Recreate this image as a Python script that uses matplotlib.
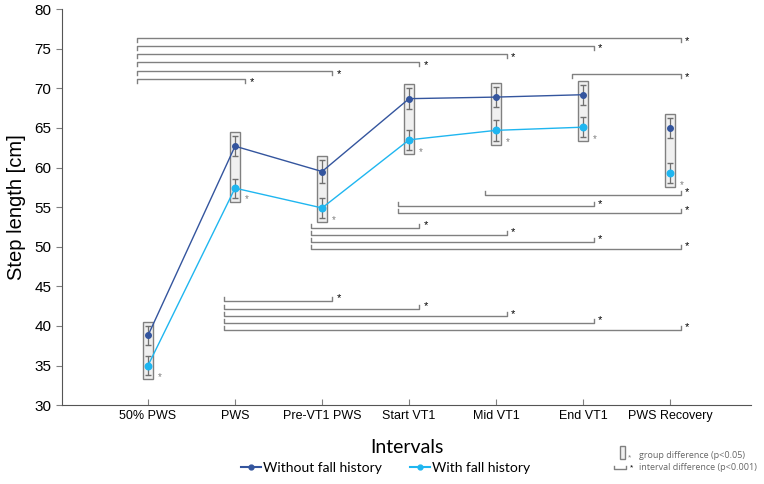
import matplotlib.pyplot as plt
from matplotlib.patches import Rectangle
from matplotlib.lines import Line2D

plt.rcParams['font.family'] = ['Liberation Sans', 'DejaVu Sans']

# data
intervals = ["50% PWS", "PWS", "Pre-VT1 PWS", "Start VT1", "Mid VT1", "End VT1", "PWS Recovery"]
no_falls = [38.8, 62.7, 59.5, 68.7, 68.9, 69.2, 65.0]
no_falls_err = [1.25, 1.25, 1.45, 1.3, 1.3, 1.25, 1.3]
falls = [35.0, 57.4, 54.9, 63.5, 64.7, 65.1, 59.3]
falls_err = [1.2, 1.2, 1.3, 1.3, 1.3, 1.25, 1.3]

# interval comparisons: (height, from interval, to interval, above/below)
brackets = [
    (76.3, 0, 6, 1), (75.4, 0, 5, 1), (74.3, 0, 4, 1), (73.3, 0, 3, 1),
    (72.2, 0, 2, 1), (71.2, 0, 1, 1), (71.8, 5, 6, 1),
    (56.5, 4, 6, -1), (55.1, 3, 5, -1), (54.25, 3, 6, -1),
    (52.4, 2, 3, -1), (51.5, 2, 4, -1), (50.6, 2, 5, -1), (49.7, 2, 6, -1),
    (43.2, 1, 2, -1), (42.2, 1, 3, -1), (41.2, 1, 4, -1), (40.4, 1, 5, -1), (39.5, 1, 6, -1),
]

dark = '#34559e'
light = '#1fb6f0'
grey = '#808080'
soft = ['Lato', 'DejaVu Sans']

fig = plt.figure(figsize=(7.64, 4.84), dpi=100)
ax = fig.add_axes([0.081, 0.163, 0.902, 0.818])

x = list(range(len(intervals)))

# grey boxes marking group differences
for i in x:
    top = no_falls[i] + no_falls_err[i] + 0.5
    bot = falls[i] - falls_err[i] - 0.5
    ax.add_patch(Rectangle((i - 0.06, bot), 0.12, top - bot, facecolor='#f0f0f0',
                           edgecolor=grey, lw=1, zorder=1))
    ax.text(i + 0.13, bot + 0.3, '*', color=grey, fontsize=7, ha='center', va='center')

ax.errorbar(x, no_falls, yerr=no_falls_err, fmt='none', ecolor='#707070', elinewidth=0.9,
            capsize=2, zorder=2)
ax.errorbar(x, falls, yerr=falls_err, fmt='none', ecolor='#707070', elinewidth=0.9,
            capsize=2, zorder=2)
ax.plot(x[:-1], no_falls[:-1], color=dark, lw=1, zorder=3)
ax.plot(x[:-1], falls[:-1], color=light, lw=1, zorder=3)
ax.plot(x, no_falls, 'o', color=dark, ms=4, zorder=4)
ax.plot(x, falls, 'o', color=light, ms=4.7, zorder=4)

for y, a, b, d in brackets:
    x0 = a - 0.13
    x1 = b + 0.12
    h = 0.5 * d
    ax.plot([x0, x0, x1, x1], [y - h, y, y, y - h], color=grey, lw=1, zorder=1)
    ax.text(x1 + 0.07, y - 0.35 * d, '*', color='black', fontsize=8, ha='center', va='center')

ax.set_xlim(-0.99, 6.93)
ax.set_ylim(30, 80)
ax.set_xticks(x)
ax.set_xticklabels(intervals, fontsize=9)
ax.set_yticks(range(30, 81, 5))
ax.tick_params(axis='y', labelsize=11, color=grey, direction='out', length=4)
ax.tick_params(axis='x', color=grey, direction='in', length=4)
ax.spines['top'].set_visible(False)
ax.spines['right'].set_visible(False)
ax.spines['left'].set_color('#555555')
ax.spines['bottom'].set_color('#555555')
ax.set_ylabel('Step length [cm]', fontsize=14.5, labelpad=6)
ax.set_xlabel('Intervals', fontsize=14, labelpad=12, family=soft)

handles = [Line2D([], [], color=dark, marker='o', ms=3.5, lw=1.5),
           Line2D([], [], color=light, marker='o', ms=3.5, lw=1.5)]
fig.legend(handles, ['Without fall history', 'With fall history'], loc='lower center',
           bbox_to_anchor=(0.505, -0.005), ncol=2, frameon=False,
           prop={'family': soft, 'size': 10},
           handlelength=1.4, handletextpad=0.2, columnspacing=2)

# key for the significance marks
fig.patches.append(Rectangle((620 / 764, 1 - 459 / 484), 5 / 764, 13 / 484,
                             transform=fig.transFigure, facecolor='#f0f0f0',
                             edgecolor=grey, lw=1))
fig.text(630 / 764, 1 - 458 / 484, '*', color=grey, fontsize=6, ha='center', va='center')
fig.text(639 / 764, 1 - 455 / 484, 'group difference (p<0.05)', color='#666666',
         fontsize=6.5, va='center', family=['Open Sans', 'DejaVu Sans'])
fig.lines.append(Line2D([614 / 764, 614 / 764, 626 / 764, 626 / 764],
                        [1 - 466 / 484, 1 - 469 / 484, 1 - 469 / 484, 1 - 466 / 484],
                        transform=fig.transFigure, color=grey, lw=1))
fig.text(631 / 764, 1 - 468 / 484, '*', color='black', fontsize=6, ha='center', va='center')
fig.text(639 / 764, 1 - 467 / 484, 'interval difference (p<0.001)', color='#666666',
         fontsize=6.5, va='center', family=['Open Sans', 'DejaVu Sans'])

fig.savefig('out.png', dpi=100)
